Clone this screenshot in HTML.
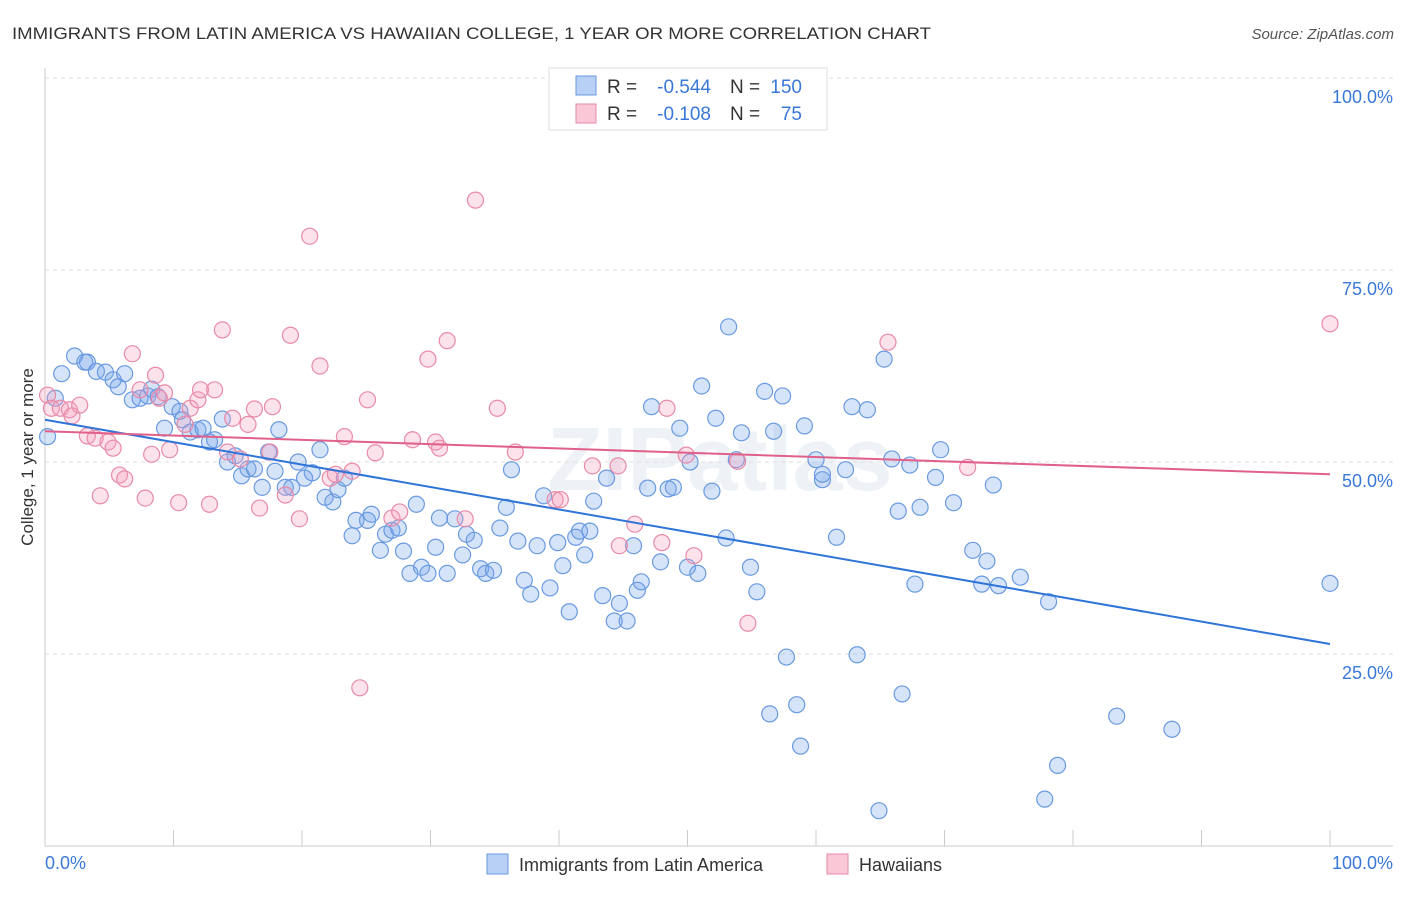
<!DOCTYPE html>
<html><head><meta charset="utf-8"><style>
body{margin:0;background:#fff;font-family:"Liberation Sans",sans-serif;}
svg text{font-family:"Liberation Sans",sans-serif;}
</style></head><body>
<svg id="chart" width="1406" height="892" viewBox="0 0 1406 892" xmlns="http://www.w3.org/2000/svg">
<text x="12" y="39" font-size="17" fill="#333" textLength="919" lengthAdjust="spacingAndGlyphs">IMMIGRANTS FROM LATIN AMERICA VS HAWAIIAN COLLEGE, 1 YEAR OR MORE CORRELATION CHART</text>
<text x="1394" y="39" font-size="15" fill="#555" text-anchor="end" font-style="italic">Source: ZipAtlas.com</text>
<text x="720" y="490" font-size="90" fill="#dfe6f0" text-anchor="middle" font-weight="bold" opacity="0.5">ZIPatlas</text>
<g id="grid"></g>
<g id="axes"></g>
<g id="pts"></g>
<g id="trend"></g>
<text transform="translate(33,457) rotate(-90)" font-size="17" fill="#333" text-anchor="middle">College, 1 year or more</text>
<text x="45" y="869" font-size="18" fill="#3a78d8">0.0%</text>
<text x="1393" y="869" font-size="18" fill="#3a78d8" text-anchor="end">100.0%</text>
<g>
<rect x="549" y="68" width="278" height="62" fill="#fff" stroke="#ddd"/>
<rect x="576" y="76" width="20" height="19" fill="#b8d0f4" stroke="#6a9ae0"/>
<rect x="576" y="104" width="20" height="19" fill="#f9c7d6" stroke="#e88aa8"/>
<text x="607" y="93" font-size="19" fill="#333">R =</text>
<text x="711" y="93" font-size="19" fill="#3a78d8" text-anchor="end">-0.544</text>
<text x="730" y="93" font-size="19" fill="#333">N =</text>
<text x="802" y="93" font-size="19" fill="#3a78d8" text-anchor="end">150</text>
<text x="607" y="120" font-size="19" fill="#333">R =</text>
<text x="711" y="120" font-size="19" fill="#3a78d8" text-anchor="end">-0.108</text>
<text x="730" y="120" font-size="19" fill="#333">N =</text>
<text x="802" y="120" font-size="19" fill="#3a78d8" text-anchor="end">75</text>
</g>
<g>
<rect x="487" y="854" width="21" height="20" fill="#b8d0f4" stroke="#6a9ae0"/>
<text x="519" y="871" font-size="18" fill="#333">Immigrants from Latin America</text>
<rect x="827" y="854" width="21" height="20" fill="#f9c7d6" stroke="#e88aa8"/>
<text x="859" y="871" font-size="18" fill="#333">Hawaiians</text>
</g>
</svg>
<script>
const yTicks=[100,75,50,25];
const yTickLabels=["100.0%","75.0%","50.0%","25.0%"];
const xTicks=[0,10,20,30,40,50,60,70,80,90,100];
const blueX=[0.2,0.8,1.3,2.3,3.1,3.3,4.0,4.7,5.3,5.7,6.2,6.8,7.4,8.0,8.3,8.8,9.3,9.9,10.5,10.7,11.3,11.9,12.3,12.8,13.2,13.8,14.2,14.8,15.3,15.8,16.3,16.9,17.4,17.9,18.2,18.7,19.2,19.7,20.2,20.8,21.4,21.8,22.4,22.8,23.3,23.9,24.2,25.1,25.4,26.1,26.5,27.0,27.5,27.9,28.4,28.9,29.3,29.8,30.4,30.7,31.3,31.9,32.5,32.8,33.4,33.9,34.3,34.9,35.4,35.9,36.3,36.8,37.3,37.8,38.3,38.8,39.3,39.9,40.3,40.8,41.3,41.6,42.0,42.4,42.7,43.4,43.7,44.3,44.7,45.3,45.8,46.1,46.4,46.9,47.2,47.9,48.5,48.9,49.4,50.0,50.2,50.8,51.1,51.9,52.2,53.0,53.2,53.8,54.2,54.9,55.4,56.0,56.7,56.4,57.4,57.7,58.5,58.8,59.1,60.0,60.5,60.5,61.6,62.3,62.8,63.2,64.0,64.9,65.3,65.9,66.4,66.7,67.3,67.7,68.1,69.3,69.7,70.7,72.2,72.9,73.3,74.2,73.8,75.9,78.1,77.8,78.8,83.4,87.7,100];
const blueY=[53.3,58.3,61.5,63.8,63.0,63.0,61.8,61.7,60.7,59.8,61.5,58.1,58.3,58.6,59.5,58.5,54.4,57.2,56.6,55.5,53.9,54.2,54.4,52.6,52.9,55.6,50.0,50.8,48.2,49.1,49.1,46.7,51.3,48.8,54.2,46.7,46.7,50.0,47.9,48.6,51.6,45.4,44.8,46.4,47.9,40.4,42.4,42.4,43.2,38.5,40.6,41.1,41.4,38.4,35.5,44.5,36.3,35.5,38.9,42.7,35.5,42.6,37.9,40.6,39.8,36.1,35.5,35.9,41.4,44.1,49.0,39.7,34.6,32.8,39.1,45.6,33.6,39.5,36.5,30.5,40.2,41.0,37.9,41.0,44.9,32.6,47.9,29.3,31.6,29.3,39.1,33.3,34.4,46.6,57.2,37.0,46.5,46.7,54.4,36.3,50.0,35.5,59.9,46.2,55.7,40.1,67.6,50.3,53.8,36.3,33.1,59.2,54.0,17.2,58.6,24.6,18.4,13.0,54.7,50.3,47.7,48.4,40.2,49.0,57.2,24.9,56.8,4.6,63.4,50.4,43.6,19.8,49.6,34.1,44.1,48.0,51.6,44.7,38.5,34.1,37.1,33.9,47.0,35.0,31.8,6.1,10.5,16.9,15.2,34.2];
const pinkX=[0.2,0.5,1.2,1.9,2.1,2.7,3.3,3.9,4.3,4.9,5.3,5.8,6.2,6.8,7.4,7.8,8.3,8.6,8.9,9.3,9.7,10.4,10.9,11.3,11.9,12.1,12.8,13.2,13.8,14.2,14.6,15.2,15.8,16.3,16.7,17.5,17.7,18.7,19.1,19.8,20.6,21.4,22.2,22.6,23.3,23.9,24.5,25.1,25.7,27.0,27.6,28.6,29.8,30.4,30.7,31.3,32.7,33.5,35.2,36.6,39.7,40.1,42.6,44.6,44.7,45.9,48.4,48.0,49.9,50.5,53.9,54.7,65.6,71.8,100];
const pinkY=[58.7,57.0,57.0,56.8,56.0,57.4,53.4,53.1,45.6,52.6,51.8,48.3,47.8,64.1,59.4,45.3,51.0,61.3,58.3,59.0,51.6,44.7,54.9,57.0,58.1,59.4,44.5,59.4,67.2,51.3,55.7,50.4,54.9,56.9,44.0,51.3,57.2,45.7,66.5,42.6,79.4,62.5,47.9,48.4,53.3,48.8,20.6,58.1,51.2,42.7,43.5,52.9,63.4,52.6,51.8,65.8,42.6,84.1,57.0,51.3,45.1,45.1,49.5,49.5,39.1,41.9,57.0,39.5,50.9,37.8,50.1,29.0,65.6,49.3,68.0];
const blueTrend=[55.5,26.3];
const pinkTrend=[54.0,48.4];
const NS="http://www.w3.org/2000/svg";
function sx(v){return 45+v*12.85;}
function sy(v){return 846-v*7.68;}
function mk(tag,attrs,parent){const e=document.createElementNS(NS,tag);for(const k in attrs)e.setAttribute(k,attrs[k]);parent.appendChild(e);return e;}
const grid=document.getElementById('grid');
yTicks.forEach((t,i)=>{
  const l=mk('line',{x1:45,x2:1393,y1:sy(t),y2:sy(t),stroke:'#ddd','stroke-dasharray':'4,4'},grid);
  
  
  const tx=mk('text',{x:1393,y:sy(t)+25,'font-size':18,fill:'#3a78d8','text-anchor':'end'},grid);
  tx.textContent=yTickLabels[i];
  
  
});
const axes=document.getElementById('axes');
const ya=mk('line',{x1:45,x2:45,y1:68,y2:846,stroke:'#ccc'},axes);


const xa=mk('line',{x1:45,x2:1393,y1:846,y2:846,stroke:'#ccc'},axes);


xTicks.forEach(t=>{
  const l=mk('line',{x1:sx(t),x2:sx(t),y1:830,y2:846,stroke:'#ccc'},axes);
  
  
});
const pts=document.getElementById('pts');
function drawPts(X,Y,fill,stroke,name){
  X.forEach((x,i)=>{
    const c=mk('circle',{cx:sx(x),cy:sy(Y[i]),r:8,fill:fill,stroke:stroke,'stroke-width':1.2},pts);
    
    
  });
}
drawPts(blueX,blueY,'rgba(120,165,235,0.3)','#6a9ae0','latin-america-point');
drawPts(pinkX,pinkY,'rgba(245,160,190,0.3)','#e88aa8','hawaiian-point');
const tr=document.getElementById('trend');
const bl=mk('line',{x1:sx(0),y1:sy(blueTrend[0]),x2:sx(100),y2:sy(blueTrend[1]),stroke:'#2f74d8','stroke-width':2},tr);


const pl=mk('line',{x1:sx(0),y1:sy(pinkTrend[0]),x2:sx(100),y2:sy(pinkTrend[1]),stroke:'#e0608a','stroke-width':2},tr);


</script>
</body></html>
